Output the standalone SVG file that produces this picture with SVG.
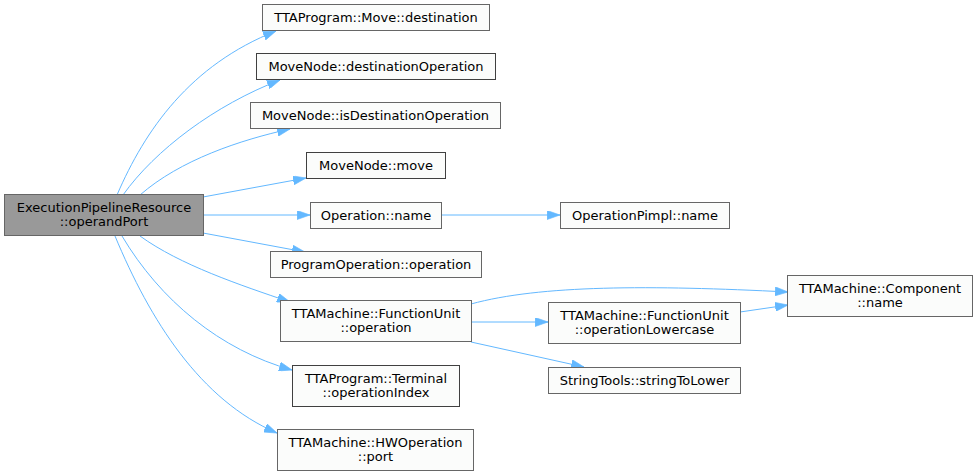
<svg xmlns="http://www.w3.org/2000/svg" width="977" height="475" viewBox="0 0 977 475">
<style>
.n rect{fill:#fbfcfb;stroke:#666666;stroke-width:1}
.n.d rect{stroke:#404040}
.n.root rect{fill:#999999;stroke:#666666}
text{font-family:"DejaVu Sans",sans-serif;font-size:13px;text-anchor:middle;fill:#000}
.e path{fill:none;stroke:#63b8ff;stroke-width:1;marker-end:url(#a)}
</style>
<defs>
<marker id="a" viewBox="0 0 10 7" refX="10" refY="3.5" markerWidth="13" markerHeight="9" markerUnits="userSpaceOnUse" orient="auto">
<path d="M0,0 L10,3.5 L0,7 Z" fill="#63b8ff" stroke="#63b8ff" stroke-width="0.5"/>
</marker>
</defs>
<rect width="977" height="475" fill="#ffffff"/>
<g id="edges" class="e">
<path d="M117,195 C145,130 190,65 276,31"/>
<path d="M123,195 C155,150 215,105 280,80"/>
<path d="M140,195 C180,160 240,140 290,129"/>
<path d="M203,197 L306,178"/>
<path d="M203,215 L310,215"/>
<path d="M442,215 L560,215"/>
<path d="M203,233 L305,252"/>
<path d="M140,236 C180,265 240,285 290,302"/>
<path d="M122,236 C160,300 220,350 292,370"/>
<path d="M115,236 C150,320 200,400 277,433"/>
<path d="M471,304 C540,285 650,285 788,292"/>
<path d="M471,322 L548,322"/>
<path d="M740,312 L788,305"/>
<path d="M471,342 L584,367"/>
</g>
<g id="root" class="n root"><rect x="4.5" y="194.5" width="199" height="41"/><text x="104" y="212">ExecutionPipelineResource</text><text x="104" y="226">::operandPort</text></g>
<g id="n1" class="n"><rect x="262.5" y="4.5" width="227" height="26"/><text x="376" y="22">TTAProgram::Move::destination</text></g>
<g id="n2" class="n d"><rect x="256.5" y="53.5" width="239" height="26"/><text x="376" y="71">MoveNode::destinationOperation</text></g>
<g id="n3" class="n"><rect x="250.5" y="102.5" width="250" height="26"/><text x="375.5" y="120">MoveNode::isDestinationOperation</text></g>
<g id="n4" class="n d"><rect x="306.5" y="152.5" width="139" height="26"/><text x="376" y="170">MoveNode::move</text></g>
<g id="n5" class="n"><rect x="310.5" y="202.5" width="131" height="26"/><text x="376" y="220">Operation::name</text></g>
<g id="n6" class="n"><rect x="560.5" y="202.5" width="169" height="26"/><text x="645" y="220">OperationPimpl::name</text></g>
<g id="n7" class="n"><rect x="270.5" y="251.5" width="211" height="26"/><text x="376" y="269">ProgramOperation::operation</text></g>
<g id="n8" class="n"><rect x="280.5" y="300.5" width="191" height="41"/><text x="376" y="318">TTAMachine::FunctionUnit</text><text x="376" y="332">::operation</text></g>
<g id="n9" class="n d"><rect x="292.5" y="365.5" width="167" height="41"/><text x="376" y="383">TTAProgram::Terminal</text><text x="376" y="397">::operationIndex</text></g>
<g id="n10" class="n"><rect x="277.5" y="429.5" width="196" height="41"/><text x="375.5" y="447">TTAMachine::HWOperation</text><text x="375.5" y="461">::port</text></g>
<g id="n11" class="n"><rect x="787.5" y="275.5" width="185" height="41"/><text x="880" y="293">TTAMachine::Component</text><text x="880" y="307">::name</text></g>
<g id="n12" class="n"><rect x="548.5" y="302.5" width="192" height="41"/><text x="644.5" y="320">TTAMachine::FunctionUnit</text><text x="644.5" y="334">::operationLowercase</text></g>
<g id="n13" class="n"><rect x="548.5" y="367.5" width="192" height="26"/><text x="644.5" y="385">StringTools::stringToLower</text></g>
</svg>
